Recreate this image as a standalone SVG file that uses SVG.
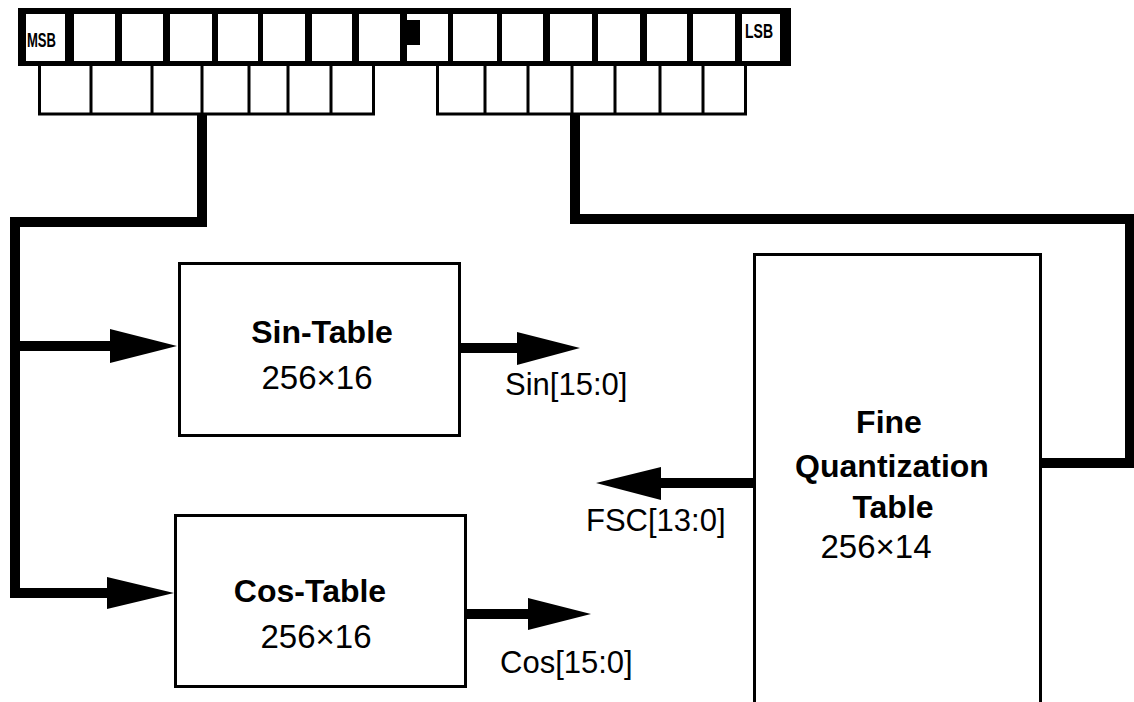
<svg xmlns="http://www.w3.org/2000/svg" width="1134" height="702" viewBox="0 0 1134 702">
<style>
.box{fill:#fff;stroke:#000;stroke-width:3}
.cell{fill:#fff}
.div{stroke:#000;stroke-width:3}
.wire{fill:none;stroke:#000;stroke-width:10;stroke-linejoin:miter;stroke-linecap:butt}
.head{fill:#000}
.t{font-family:"Liberation Sans",Arial,Helvetica,sans-serif;fill:#000}
.b{font-weight:bold;font-size:32px;text-anchor:middle}
.n{font-size:33px;text-anchor:middle}
.l{font-size:31px}
.s{font-size:20px;font-weight:bold}
</style>
<rect width="1134" height="702" fill="#fff"/>
<g id="register">
  <g id="low-fields">
    <rect class="box" x="39.5" y="63" width="334" height="51"/>
    <path class="div" d="M91 63V114M152 63V114M202 63V114M249 63V114M288 63V114M331 63V114"/>
    <rect class="box" x="437.5" y="63" width="308" height="51"/>
    <path class="div" d="M485 63V114M528 63V114M572 63V114M615 63V114M660 63V114M703 63V114"/>
  </g>
  <rect x="18" y="8" width="773" height="58" fill="#000"/>
  <rect class="cell" x="26" y="14" width="39" height="47"/>
  <rect class="cell" x="74" y="14" width="41" height="47"/>
  <rect class="cell" x="122" y="14" width="41" height="47"/>
  <rect class="cell" x="170" y="14" width="42" height="47"/>
  <rect class="cell" x="218" y="14" width="40" height="47"/>
  <rect class="cell" x="263" y="14" width="42" height="47"/>
  <rect class="cell" x="312" y="14" width="40" height="47"/>
  <rect class="cell" x="359" y="14" width="41" height="47"/>
  <rect class="cell" x="407" y="14" width="41" height="47"/>
  <rect x="407" y="20" width="13" height="25" fill="#000"/>
  <rect class="cell" x="453" y="14" width="44" height="47"/>
  <rect class="cell" x="502" y="14" width="41" height="47"/>
  <rect class="cell" x="550" y="14" width="42" height="47"/>
  <rect class="cell" x="598" y="14" width="42" height="47"/>
  <rect class="cell" x="647" y="14" width="40" height="47"/>
  <rect class="cell" x="693" y="14" width="42" height="47"/>
  <rect class="cell" x="742" y="14" width="38" height="47"/>
  <text class="t s" x="27" y="47" textLength="29" lengthAdjust="spacingAndGlyphs">MSB</text>
  <text class="t s" x="745" y="38" textLength="28" lengthAdjust="spacingAndGlyphs">LSB</text>
</g>
<g id="connectors">
  <path class="wire" d="M202 114V222H15V593H110"/>
  <path class="wire" d="M15 346H112"/>
  <path class="wire" d="M460 348H519"/>
  <path class="wire" d="M466 614H530"/>
  <path class="wire" d="M753 483H659"/>
  <path class="wire" d="M575 114V219H1130V463H1041"/>
  <polygon class="head" points="110,329 177,346 110,363"/>
  <polygon class="head" points="517,332 580,348 517,365"/>
  <polygon class="head" points="107,577 174,593 107,609"/>
  <polygon class="head" points="528,598 591,614 528,630"/>
  <polygon class="head" points="661,467 596,483 661,500"/>
</g>
<g id="sin-table">
  <rect class="box" x="179.5" y="263.5" width="280" height="172"/>
  <text class="t b" x="322" y="343">Sin-Table</text>
  <text class="t n" x="317" y="389">256×16</text>
</g>
<g id="cos-table">
  <rect class="box" x="175.5" y="515.5" width="290" height="171"/>
  <text class="t b" x="310" y="602">Cos-Table</text>
  <text class="t n" x="316" y="648">256×16</text>
</g>
<g id="fine-table">
  <rect class="box" x="754.5" y="254.5" width="286" height="500"/>
  <text class="t b" x="889" y="433">Fine</text>
  <text class="t b" x="892" y="477">Quantization</text>
  <text class="t b" x="893" y="518">Table</text>
  <text class="t n" x="876" y="558">256×14</text>
</g>
<g id="labels">
  <text class="t l" x="505" y="395">Sin[15:0]</text>
  <text class="t l" x="500" y="673">Cos[15:0]</text>
  <text class="t l" x="586" y="531">FSC[13:0]</text>
</g>
</svg>
